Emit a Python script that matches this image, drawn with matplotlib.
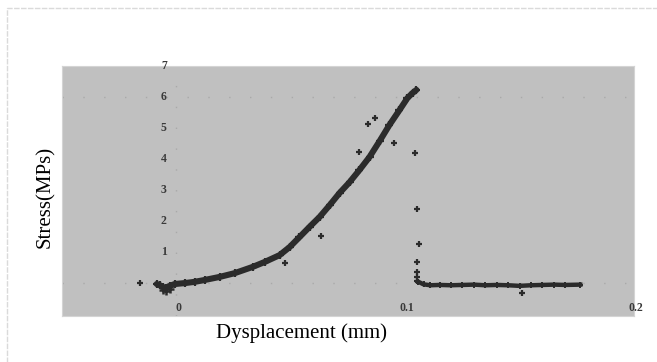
import matplotlib
matplotlib.use("Agg")
import matplotlib.pyplot as plt
from matplotlib.patches import Rectangle

# loading curve (displacement mm, stress MPa)
disp = [-0.0086, -0.0072, -0.0059, -0.0046, -0.0029, -0.0007, 0.0037, 0.0080,
        0.0124, 0.0190, 0.0255, 0.0333, 0.0386, 0.0451, 0.0495, 0.0538,
        0.0582, 0.0626, 0.0670, 0.0713, 0.0757, 0.0800, 0.0844, 0.0888,
        0.0931, 0.0975, 0.1010, 0.1032, 0.1049]
stress = [-0.02, -0.06, -0.12, -0.14, -0.08, -0.02, 0.01, 0.05,
          0.11, 0.21, 0.33, 0.53, 0.69, 0.91, 1.17, 1.49,
          1.82, 2.14, 2.52, 2.91, 3.26, 3.65, 4.07, 4.58,
          5.10, 5.58, 5.97, 6.13, 6.23]

# points below the band near the origin
low_disp = [-0.0060, -0.0045, -0.0030]
low_stress = [-0.20, -0.26, -0.18]

# failure drop and residual plateau
drop_disp = [0.1044, 0.1053, 0.1062, 0.1053, 0.1053, 0.1053, 0.1053]
drop_stress = [4.20, 2.40, 1.27, 0.69, 0.37, 0.21, 0.08]

plat_disp = [0.1058, 0.1080, 0.1110, 0.1150, 0.1200, 0.1250, 0.1300, 0.1350,
             0.1400, 0.1450, 0.1500, 0.1550, 0.1600, 0.1650, 0.1700, 0.1765]
plat_stress = [0.05, -0.03, -0.06, -0.05, -0.06, -0.05, -0.04, -0.06,
               -0.05, -0.06, -0.08, -0.06, -0.05, -0.04, -0.05, -0.04]

# scattered points away from the band
out_disp = [-0.016, 0.0473, 0.0634, 0.0800, 0.0839, 0.0866, 0.0953, 0.1512]
out_stress = [0.01, 0.66, 1.53, 4.23, 5.13, 5.32, 4.51, -0.31]

y_ticks = [1, 2, 3, 4, 5, 6, 7]
x_ticks = [0, 0.1, 0.2]
x_tick_labels = ["0", "0.1", "0.2"]

dark = "#2b2b2b"

fig = plt.figure(figsize=(6.57, 3.62), dpi=100)
ax = fig.add_axes([62 / 657, 46 / 362, 572 / 657, 250 / 362])
ax.set_facecolor("#c0c0c0")
ax.set_xlim(-0.05, 0.2)
ax.set_ylim(-1.05, 7)
for s in ax.spines.values():
    s.set_color("#d4d4d4")
ax.set_xticks([])
ax.set_yticks([])

# dotted reference lines
dots = (0, (1, 14))
ax.axhline(0, color="#a9a9a9", lw=1, ls=dots, zorder=1)
ax.axhline(6, color="#a9a9a9", lw=1, ls=dots, zorder=1)
ax.axvline(0, color="#a9a9a9", lw=1, ls=dots, zorder=1)

# data
ax.plot(disp, stress, color=dark, lw=4.4, solid_capstyle="round",
        solid_joinstyle="round", zorder=3)
ax.plot(disp, stress, "+", color=dark, ms=6, mew=1.6, zorder=4)
ax.plot(low_disp, low_stress, "+", color=dark, ms=6, mew=1.8, zorder=4)
ax.plot(plat_disp, plat_stress, color=dark, lw=3.2, zorder=3)
ax.plot(plat_disp, plat_stress, "+", color=dark, ms=5, mew=1.4, zorder=4)
ax.plot(drop_disp, drop_stress, "+", color=dark, ms=5, mew=1.6, zorder=4)
ax.plot(out_disp, out_stress, "+", color=dark, ms=5, mew=1.6, zorder=4)

# tick labels drawn inside the plot, at the origin
for v in y_ticks:
    ax.text(-0.0042, v, str(v), ha="right", va="center", fontsize=8.5,
            color="#3a3a3a", family="Liberation Serif", fontweight="bold")
for v, lab in zip(x_ticks, x_tick_labels):
    ax.text(v + 0.0008, -0.78, lab, ha="center", va="center", fontsize=8.5,
            color="#3a3a3a", family="Liberation Serif", fontweight="bold",
            clip_on=False)

fig.text(45 / 657, 1 - 197 / 362, "Stress(MPs)", rotation=90, ha="center",
         va="center", fontsize=15, family="Liberation Serif")
fig.text(302 / 657, 1 - 333 / 362, "Dysplacement (mm)", ha="center",
         va="center", fontsize=15, family="Liberation Serif")

# faint dashed page frame
fig.patches.append(Rectangle((7 / 657, -0.2), 1.2, 1 - 8 / 362 + 0.2,
                             transform=fig.transFigure, fill=False,
                             edgecolor="#dadada", lw=1, ls=(0, (4, 1))))

fig.savefig("out.png", dpi=100)
